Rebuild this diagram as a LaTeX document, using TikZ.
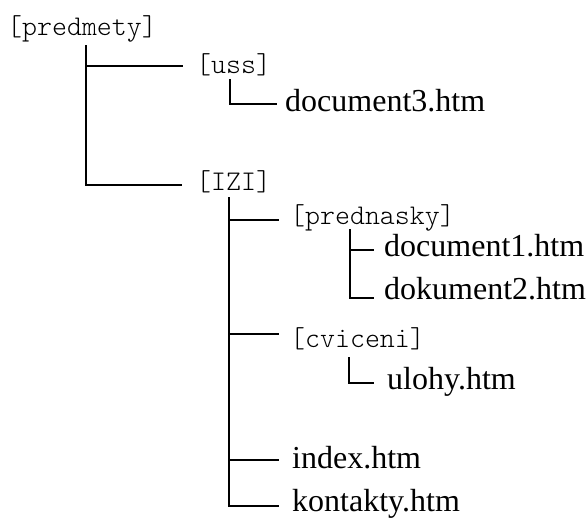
\documentclass[tikz,border=0pt]{standalone}
\usepackage{fontspec}
\setmainfont{Liberation Serif}
\setmonofont{Latin Modern Mono Light}
\begin{document}
\begin{tikzpicture}[x=1pt,y=-1pt,
  dir/.style={anchor=base west,inner sep=0pt,font=\fontsize{28.5}{28.5}\selectfont\ttfamily},
  file/.style={anchor=base west,inner sep=0pt,font=\fontsize{32}{32}\selectfont},
  conn/.style={line width=1.6pt,line cap=rect}]
\useasboundingbox (0,0) rectangle (588,518);
% nodes
\node[dir]  (predmety)  at (7,36)   {[predmety]};
\node[dir]  (uss)       at (196,74) {[uss]};
\node[file] (doc3)      at (285,112) {document3.htm};
\node[dir]  (izi)       at (196,191) {[IZI]};
\node[dir]  (prednasky) at (290,225) {[prednasky]};
\node[file] (doc1)      at (384,257) {document1.htm};
\node[file] (dok2)      at (384,299) {dokument2.htm};
\node[dir]  (cviceni)   at (290,347) {[cviceni]};
\node[file] (ulohy)     at (387,389) {ulohy.htm};
\node[file] (index)     at (292,468) {index.htm};
\node[file] (kontakty)  at (292,511) {kontakty.htm};
% connector coordinates
\coordinate (t0) at (86,46);
\coordinate (eUss) at (182,66);
\coordinate (eIzi) at (181,185);
\coordinate (u0) at (230,80);
\coordinate (eDoc3) at (276,104);
\coordinate (i0) at (229,198);
\coordinate (ePred) at (278,220);
\coordinate (p0) at (350,230);
\coordinate (eDoc1) at (373,250);
\coordinate (eDok2) at (373,298);
\coordinate (eCv) at (278,334);
\coordinate (c0) at (349,358);
\coordinate (eUl) at (373,383);
\coordinate (eIdx) at (278,460);
\coordinate (eKon) at (278,506);
% connectors
\draw[conn] (t0) |- (eUss);
\draw[conn] (t0) |- (eIzi);
\draw[conn] (u0) |- (eDoc3);
\draw[conn] (i0) |- (ePred);
\draw[conn] (i0) |- (eCv);
\draw[conn] (i0) |- (eIdx);
\draw[conn] (i0) |- (eKon);
\draw[conn] (p0) |- (eDoc1);
\draw[conn] (p0) |- (eDok2);
\draw[conn] (c0) |- (eUl);
\end{tikzpicture}
\end{document}
